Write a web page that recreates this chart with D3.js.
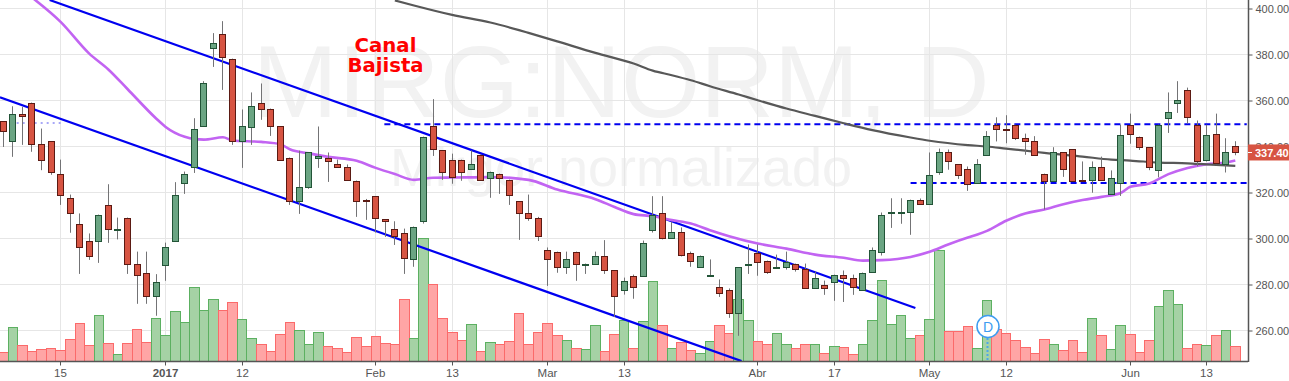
<!DOCTYPE html>
<html>
<head>
<meta charset="utf-8">
<script src="https://cdn.jsdelivr.net/npm/d3@7"></script>
<style>
  html, body { margin: 0; padding: 0; background: #fff; overflow: hidden; }
  svg { display: block; font-family: "Liberation Sans", Arial, sans-serif; }
</style>
</head>
<body>
<svg id="chart"></svg>
<script>
const priceTicks = [400, 380, 360, 340, 320, 300, 280, 260];
const timeTickIndex = [6, 17, 25, 39, 47, 57, 65, 79, 87, 97, 105, 118, 126];
const timeTickLabels = ['15', '2017', '12', 'Feb', '13', 'Mar', '13', 'Abr', '17', 'May', '12', 'Jun', '13'];

const open = [
  350.9, 342.2, 354.3, 359.1, 340.9, 342.2, 328.2, 317.4, 306.1, 299.1,
  299.1, 314.4, 304.2, 309.1, 289.1, 285.2, 275.2, 288.3, 299.1, 324.3,
  331.3, 349.1, 383.0, 389.1, 378.2, 342.6, 348.3, 359.1, 356.1, 348.7,
  335.2, 316.5, 322.2, 335.2, 335.2, 332.2, 331.3, 325.2, 316.7, 318.3,
  308.3, 304.3, 302.2, 291.3, 307.4, 348.7, 338.3, 334.3, 334.3, 330.3,
  336.5, 326.5, 328.2, 325.6, 316.1, 311.3, 309.1, 294.8, 294.3, 287.8,
  294.3, 289.0, 289.1, 292.2, 286.1, 277.4, 283.5, 283.5, 303.5, 311.3,
  300.4, 303.0, 293.5, 287.4, 284.2, 279.1, 277.4, 267.4, 288.3, 293.5,
  290.4, 287.2, 287.4, 289.1, 286.9, 278.3, 279.6, 281.3, 284.3, 283.0,
  277.4, 285.6, 294.3, 311.3, 311.3, 311.7, 316.9, 315.2, 329.1, 337.4,
  332.2, 330.4, 324.2, 336.2, 349.5, 347.8, 349.5, 343.5, 342.6, 328.2,
  325.2, 337.4, 338.7, 325.6, 325.6, 331.3, 319.5, 324.3, 349.5, 344.3,
  339.6, 329.6, 352.6, 359.1, 364.4, 349.5, 334.3, 345.6, 332.6, 340.4
];
const high = [
  350.9, 357.5, 357.2, 359.1, 347.8, 342.2, 334.3, 319.1, 310.9, 302.2,
  310.4, 323.6, 309.1, 309.1, 294.3, 294.3, 284.5, 298.2, 324.5, 329.1,
  352.3, 368.4, 389.3, 394.5, 378.2, 356.1, 363.5, 367.4, 356.5, 348.7,
  335.2, 338.2, 337.4, 348.7, 337.4, 334.3, 332.2, 325.2, 317.2, 318.3,
  308.3, 307.5, 304.3, 305.2, 344.3, 360.6, 338.3, 336.9, 334.3, 338.3,
  336.5, 329.1, 328.2, 325.6, 316.1, 319.1, 309.4, 296.1, 294.3, 294.3,
  294.3, 289.1, 294.3, 299.3, 286.1, 283.0, 284.3, 299.1, 318.4, 318.4,
  307.2, 304.8, 294.3, 292.6, 290.9, 282.2, 278.3, 287.4, 297.4, 297.4,
  290.4, 293.0, 294.3, 289.1, 289.1, 285.6, 281.7, 284.3, 286.1, 284.3,
  285.2, 296.1, 311.3, 317.5, 317.5, 316.9, 317.4, 337.4, 339.1, 338.7,
  332.2, 331.3, 334.5, 346.7, 352.7, 353.6, 349.5, 345.6, 344.5, 328.2,
  339.7, 337.4, 338.7, 333.5, 333.5, 335.6, 329.6, 349.5, 354.3, 344.3,
  339.6, 349.5, 363.5, 368.4, 365.6, 351.3, 349.5, 354.3, 343.6, 342.3
];
const low = [
  339.8, 335.5, 340.7, 337.7, 329.7, 327.7, 314.6, 302.5, 284.6, 290.7,
  289.4, 298.1, 299.6, 284.6, 271.6, 271.6, 266.4, 281.6, 299.1, 319.4,
  328.5, 349.1, 374.6, 364.6, 340.7, 330.7, 340.7, 351.6, 344.6, 334.3,
  314.6, 310.7, 321.6, 330.7, 324.6, 330.7, 325.6, 309.4, 308.1, 302.6,
  300.7, 297.2, 284.6, 287.7, 306.5, 335.9, 325.5, 323.8, 325.1, 329.9,
  325.2, 317.7, 319.4, 314.6, 299.4, 307.7, 298.9, 279.4, 285.1, 284.6,
  281.6, 284.6, 288.7, 284.6, 265.9, 275.6, 273.8, 283.5, 302.6, 299.6,
  300.4, 292.2, 287.7, 287.4, 283.9, 274.6, 265.5, 257.7, 284.6, 283.8,
  284.6, 286.9, 286.5, 285.6, 278.3, 278.3, 275.5, 272.9, 272.4, 275.5,
  277.4, 285.6, 292.6, 304.6, 306.4, 301.6, 314.8, 314.9, 327.7, 329.9,
  325.9, 320.7, 324.2, 335.9, 342.2, 341.4, 342.8, 336.4, 335.9, 312.6,
  325.2, 326.8, 325.2, 325.2, 319.9, 325.6, 319.5, 318.5, 341.2, 338.5,
  329.7, 326.6, 345.9, 354.6, 350.0, 331.4, 333.5, 332.3, 328.7, 336.2
];
const close = [
  346.8, 354.3, 353.3, 340.9, 334.3, 329.1, 319.1, 310.9, 296.1, 292.6,
  310.4, 304.3, 304.3, 288.7, 284.3, 275.2, 281.3, 296.5, 319.1, 328.2,
  347.4, 367.8, 385.2, 379.1, 342.2, 348.7, 357.4, 356.1, 348.7, 334.3,
  316.4, 322.2, 337.4, 335.8, 333.9, 331.3, 325.6, 316.1, 316.4, 309.1,
  307.4, 300.9, 291.7, 305.2, 344.3, 339.1, 328.7, 326.9, 329.1, 332.2,
  325.5, 328.7, 326.5, 318.7, 311.3, 309.1, 300.9, 291.3, 287.4, 290.9,
  289.1, 289.1, 292.2, 286.1, 274.8, 281.7, 279.1, 298.2, 310.4, 300.4,
  303.0, 293.0, 290.4, 292.2, 284.3, 276.5, 267.4, 287.4, 289.1, 290.0,
  285.6, 287.4, 289.6, 286.9, 278.3, 283.0, 278.3, 284.3, 283.0, 279.1,
  285.2, 295.2, 310.4, 311.4, 311.7, 316.9, 315.2, 327.4, 337.4, 333.9,
  327.8, 323.9, 332.3, 344.5, 347.8, 347.2, 343.5, 342.2, 336.5, 325.2,
  337.8, 330.4, 325.2, 325.2, 331.3, 325.6, 326.1, 344.8, 345.6, 339.6,
  331.3, 349.5, 354.8, 360.4, 353.0, 333.5, 344.8, 333.0, 337.4, 337.4
];
const volume = [
  28, 102, 48, 30, 36, 39, 33, 66, 114, 48,
  138, 54, 21, 54, 96, 57, 129, 78, 150, 117,
  222, 153, 186, 153, 177, 126, 69, 51, 30, 81,
  117, 93, 51, 87, 45, 39, 27, 72, 45, 75,
  54, 51, 186, 69, 369, 231, 129, 87, 63, 111,
  30, 57, 51, 60, 144, 51, 87, 114, 78, 63,
  39, 36, 108, 30, 81, 123, 39, 120, 240, 108,
  39, 57, 33, 24, 60, 108, 84, 186, 123, 60,
  51, 84, 51, 39, 51, 51, 24, 45, 42, 21,
  51, 123, 243, 111, 138, 69, 78, 126, 333, 90,
  90, 105, 39, 183, 96, 84, 63, 42, 24, 66,
  51, 33, 63, 27, 129, 78, 36, 108, 81, 27,
  63, 165, 213, 171, 39, 51, 48, 78, 93, 45
];

const ma50Index = [3, 6, 9, 11, 13, 16, 17, 19, 20, 21, 23, 24, 27, 29, 30, 32, 34, 37, 39, 41, 43, 45, 47, 51, 55, 58, 62, 64, 66, 68, 70, 72, 74, 76, 79, 82, 85, 88, 90, 92, 95, 97, 99, 101, 102, 103, 105, 107, 109, 111, 113, 115, 117, 118, 120, 122, 124, 126, 128, 129];
const ma50Value = [404.8, 394.2, 380.4, 373.5, 365.0, 352.2, 348.5, 344.2, 343.2, 343.0, 344.0, 342.6, 342.0, 341.0, 338.8, 337.0, 335.5, 333.8, 330.7, 328.0, 325.5, 326.4, 326.5, 326.7, 325.5, 321.3, 317.1, 313.7, 310.6, 309.7, 308.0, 306.5, 303.6, 301.0, 297.8, 295.6, 293.0, 291.6, 290.4, 290.6, 292.0, 294.2, 297.5, 300.4, 301.7, 303.3, 307.7, 310.9, 312.6, 314.9, 316.7, 318.1, 319.8, 322.5, 323.9, 328.0, 330.7, 332.3, 333.0, 333.9];
const ma200Index = [41, 43, 47, 51, 54, 55, 58, 62, 66, 68, 70, 72, 74, 77, 79, 82, 85, 88, 91, 95, 97, 101, 103, 105, 107, 109, 113, 116, 118, 121, 124, 126, 129];
const ma200Value = [403.5, 401.3, 397.2, 393.9, 390.6, 389.4, 385.7, 380.7, 376.1, 373.0, 371.0, 368.8, 366.2, 362.6, 360.1, 356.5, 353.3, 350.1, 347.1, 343.9, 342.5, 340.6, 340.0, 339.1, 338.2, 337.2, 335.6, 334.3, 333.9, 333.0, 332.7, 332.2, 331.6];

// [index, price] pairs of the drawings on the chart
const channelUpper = [[4.85, 403.7], [95.5, 269.8]];
const channelLower = [[-0.35, 361.4], [77.3, 246.7]];
const resistance = [[39.9, 349.65], [130.2, 349.65]];
const support = [[95, 324.1], [130.2, 324.1]];
const oldLevel = [[1.4, 350.2], [6, 350.2]];

const lastPrice = 337.4;
const dividendIndex = 103;

const W = 1289, H = 381;
const plotRight = 1248, plotBottom = 361;

const svg = d3.select('#chart').attr('width', W).attr('height', H);

const x = d3.scaleLinear().domain([0, 129]).range([3.3, 1235.3]);
const y = d3.scaleLinear().domain([400, 260]).range([8.5, 330.5]);
const volY = d3.scaleLinear().domain([0, 369]).range([plotBottom, 238]);
const px = i => Math.floor(x(i)) + 0.5;

svg.append('clipPath').attr('id', 'plot')
  .append('rect').attr('width', plotRight).attr('height', plotBottom);

// watermark
svg.append('text').attr('x', 621).attr('y', 117).attr('text-anchor', 'middle')
  .attr('font-size', 102).attr('fill', '#f2f2f2').text('MIRG:NORM, D');
svg.append('text').attr('x', 621).attr('y', 186).attr('text-anchor', 'middle')
  .attr('font-size', 54).attr('fill', '#f2f2f2').text('Mirgor normalizado');

// grid
svg.append('g').selectAll('line').data(priceTicks).join('line')
  .attr('x1', 0).attr('x2', plotRight)
  .attr('y1', d => y(d)).attr('y2', d => y(d))
  .attr('stroke', '#e6e6e6').attr('stroke-width', 1);
svg.append('g').selectAll('line').data(timeTickIndex).join('line')
  .attr('x1', d => px(d)).attr('x2', d => px(d))
  .attr('y1', 0).attr('y2', plotBottom)
  .attr('stroke', '#e6e6e6').attr('stroke-width', 1);

const chart = svg.append('g').attr('clip-path', 'url(#plot)');

// volume
chart.append('g').selectAll('rect').data(volume).join('rect')
  .attr('x', (d, i) => Math.floor(x(i) - 4.7) + 0.5)
  .attr('width', (d, i) => Math.floor(x(i) + 4.85) - Math.floor(x(i) - 4.7))
  .attr('y', d => Math.round(volY(d)) + 0.5)
  .attr('height', d => plotBottom - Math.round(volY(d)))
  .attr('fill', (d, i) => close[i] >= open[i] ? '#a5d2a5' : '#ffa5a5')
  .attr('stroke', (d, i) => close[i] >= open[i] ? '#5cb061' : '#fb6a6a');

// channel and levels
const pairLine = d3.line().x(d => x(d[0])).y(d => y(d[1]));
chart.selectAll('path.channel').data([channelUpper, channelLower]).join('path')
  .attr('class', 'channel').attr('fill', 'none')
  .attr('stroke', '#0000f0').attr('stroke-width', 2.2).attr('d', pairLine);
chart.selectAll('path.level').data([resistance, support]).join('path')
  .attr('class', 'level').attr('fill', 'none')
  .attr('stroke', '#0000f0').attr('stroke-width', 2)
  .attr('stroke-dasharray', '6 4').attr('d', pairLine);
chart.append('path').datum(oldLevel).attr('fill', 'none')
  .attr('stroke', '#8c8cf5').attr('stroke-width', 1.5)
  .attr('stroke-dasharray', '2 4').attr('d', pairLine);

// moving averages
const maLine = d3.line().x(d => x(d[0])).y(d => y(d[1])).curve(d3.curveMonotoneX);
chart.append('path').datum(ma50Index.map((d, i) => [d, ma50Value[i]]))
  .attr('fill', 'none').attr('stroke', '#c264f2').attr('stroke-width', 2.6).attr('d', maLine);
chart.append('path').datum(ma200Index.map((d, i) => [d, ma200Value[i]]))
  .attr('fill', 'none').attr('stroke', '#585858').attr('stroke-width', 2.2).attr('d', maLine);

// candles
const candles = chart.append('g').selectAll('g').data(close).join('g');
candles.append('line')
  .attr('x1', (d, i) => px(i)).attr('x2', (d, i) => px(i))
  .attr('y1', (d, i) => y(high[i])).attr('y2', (d, i) => y(low[i]))
  .attr('stroke', '#737375').attr('stroke-width', 1);
candles.append('rect')
  .attr('x', (d, i) => px(i) - 3).attr('width', 6)
  .attr('y', (d, i) => Math.round(y(Math.max(open[i], close[i]))) + 0.5)
  .attr('height', (d, i) => Math.max(1, Math.round(y(Math.min(open[i], close[i]))) - Math.round(y(Math.max(open[i], close[i])))))
  .attr('fill', (d, i) => close[i] >= open[i] ? '#6ba583' : '#d75442')
  .attr('stroke', (d, i) => close[i] >= open[i] ? '#225437' : '#5b1a13');

// annotation
svg.append('text').attr('x', 385.5).attr('y', 52).attr('text-anchor', 'middle')
  .attr('font-family', '"DejaVu Sans", Verdana, sans-serif').attr('font-weight', 'bold')
  .attr('font-size', 19.7).attr('fill', '#ff0000').text('Canal');
svg.append('text').attr('x', 385.5).attr('y', 71.5).attr('text-anchor', 'middle')
  .attr('font-family', '"DejaVu Sans", Verdana, sans-serif').attr('font-weight', 'bold')
  .attr('font-size', 19.7).attr('fill', '#ff0000').text('Bajista');

// dividend marker
svg.append('line').attr('x1', px(dividendIndex) + 1).attr('x2', px(dividendIndex) + 1)
  .attr('y1', 338).attr('y2', plotBottom)
  .attr('stroke', '#4ea6ea').attr('stroke-width', 2).attr('stroke-dasharray', '2 2');
svg.append('circle').attr('cx', x(dividendIndex) + 1).attr('cy', 326.5).attr('r', 11)
  .attr('fill', '#fff').attr('stroke', '#3d9cf0').attr('stroke-width', 1.5);
svg.append('text').attr('x', x(dividendIndex) + 1).attr('y', 331.5).attr('text-anchor', 'middle')
  .attr('font-size', 14).attr('fill', '#3d9cf0').text('D');

// axes
const yAxis = svg.append('g').attr('transform', `translate(${plotRight + 0.5},0)`)
  .call(d3.axisRight(y).tickValues(priceTicks).tickFormat(d3.format('.2f')).tickSize(4).tickPadding(3));
yAxis.select('.domain').attr('d', `M0,0V${plotBottom + 1}`).attr('stroke', '#555').attr('stroke-width', 1.5);
yAxis.selectAll('.tick line').attr('stroke', '#555');
yAxis.selectAll('.tick text').attr('fill', '#555').attr('font-size', 11)
  .attr('font-family', '"Liberation Sans", Arial, sans-serif');

const xAxis = svg.append('g').attr('transform', `translate(0,${plotBottom + 0.5})`)
  .call(d3.axisBottom(x).tickValues(timeTickIndex).tickFormat((d, i) => timeTickLabels[i]).tickSize(4).tickPadding(3));
xAxis.select('.domain').attr('d', `M0,0H${plotRight}`).attr('stroke', '#555').attr('stroke-width', 1.5);
xAxis.selectAll('.tick').attr('transform', d => `translate(${px(d)},0)`);
xAxis.selectAll('.tick line').attr('stroke', '#555');
xAxis.selectAll('.tick text').attr('fill', '#555').attr('font-size', 11.5)
  .attr('font-family', '"Liberation Sans", Arial, sans-serif')
  .attr('font-weight', d => d === 17 ? 'bold' : 'normal');

// last price label
const lastY = y(lastPrice);
svg.append('rect').attr('x', plotRight).attr('y', lastY - 8).attr('width', W - plotRight).attr('height', 16)
  .attr('fill', '#d75442');
svg.append('line').attr('x1', plotRight).attr('x2', plotRight + 4)
  .attr('y1', Math.round(lastY) + 0.5).attr('y2', Math.round(lastY) + 0.5).attr('stroke', '#fff');
svg.append('text').attr('x', 1255).attr('y', lastY + 4.5)
  .attr('font-size', 11).attr('font-weight', 'bold').attr('fill', '#fff').text(d3.format('.2f')(lastPrice));
</script>
</body>
</html>
